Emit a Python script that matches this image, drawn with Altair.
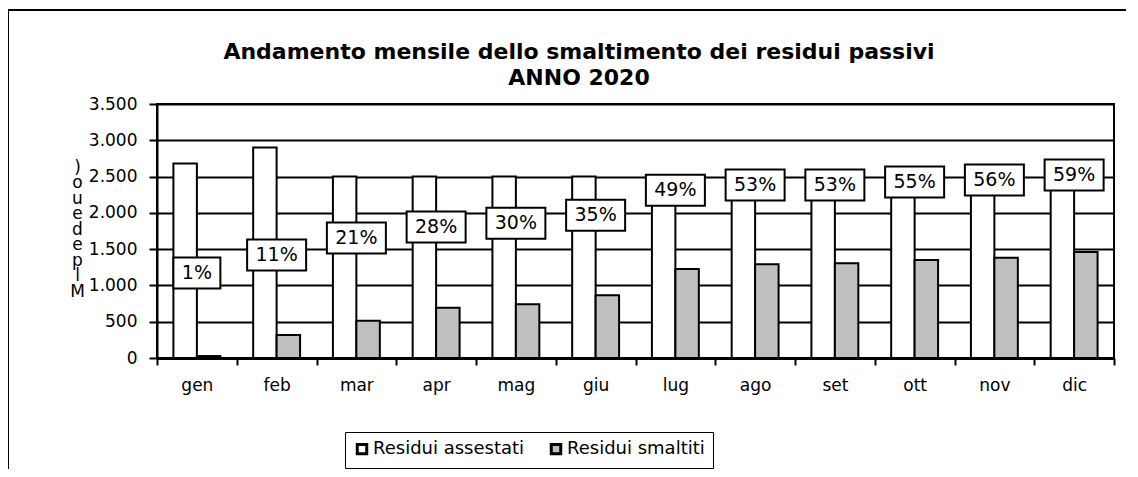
import altair as alt
import pandas as pd

months = ["gen", "feb", "mar", "apr", "mag", "giu", "lug", "ago", "set", "ott", "nov", "dic"]
assestati = [2680, 2900, 2500, 2500, 2500, 2500, 2500, 2440, 2460, 2450, 2470, 2480]
smaltiti = [27, 317, 514, 693, 740, 865, 1226, 1291, 1305, 1350, 1382, 1461]
pct_labels = ["1%", "11%", "21%", "28%", "30%", "35%", "49%", "53%", "53%", "55%", "56%", "59%"]
label_pos = [1171, 1419, 1654, 1805, 1856, 1966, 2311, 2384, 2384, 2425, 2453, 2522]
series_names = ["Residui assestati", "Residui smaltiti"]
y_ticks = [0, 500, 1000, 1500, 2000, 2500, 3000, 3500]
y_title = [")", "o", "u", "e", "d", "e", "p", "l", "M"]
title_lines = ["Andamento mensile dello smaltimento dei residui passivi", "ANNO 2020"]

rows = []
for m, a, s in zip(months, assestati, smaltiti):
    rows.append({"mese": m, "serie": series_names[0], "valore": a})
    rows.append({"mese": m, "serie": series_names[1], "valore": s})
bars_df = pd.DataFrame(rows)
lab_df = pd.DataFrame({"mese": months, "pct": pct_labels, "valore": label_pos})
lab_df["n"] = lab_df["pct"].str.len()

FONT = "DejaVu Sans"
FS = 17

x_scale = alt.Scale(domain=months, paddingInner=0, paddingOuter=0)
y_scale = alt.Scale(domain=[0, 3500], nice=False)

x_axis = alt.Axis(title=None, labelAngle=0, tickBand="extent", ticks=True, tickSize=7,
                  labelPadding=12, labelFontSize=FS, labelFont=FONT,
                  labelColor="black", domainColor="black", domainWidth=3,
                  tickColor="black", tickWidth=2, grid=False)
y_axis = alt.Axis(values=y_ticks, grid=True, gridColor="black", gridWidth=2,
                  labelOverlap=False,
                  labelExpr="replace(format(datum.value, ','), ',', '.')",
                  tickSize=8, labelPadding=12, labelFontSize=FS, labelFont=FONT,
                  labelColor="black", domainColor="black", domainWidth=2,
                  tickColor="black", tickWidth=2,
                  title=y_title, titleAngle=0, titleX=-80, titleY=55,
                  titleAlign="center", titleBaseline="top",
                  titleFont=FONT, titleFontSize=17, titleFontWeight="normal",
                  titleLineHeight=15.5, titleColor="black")

X = alt.X("mese:N", sort=months, scale=x_scale, axis=x_axis)
Y_bar = alt.Y("valore:Q", scale=y_scale, axis=y_axis)

bars = alt.Chart(bars_df).mark_bar(stroke="black", strokeWidth=2).encode(
    x=X,
    xOffset=alt.XOffset("serie:N", sort=series_names,
                        scale=alt.Scale(domain=series_names, paddingInner=0, paddingOuter=0.7)),
    y=Y_bar,
    color=alt.Color("serie:N", sort=series_names,
                    scale=alt.Scale(domain=series_names, range=["white", "#c0c0c0"]),
                    legend=alt.Legend(title=None, orient="none", legendX=188, legendY=328,
                                      direction="horizontal", strokeColor="black",
                                      padding=8, symbolType="square", symbolSize=90,
                                      symbolStrokeColor="black", symbolStrokeWidth=3,
                                      labelFont=FONT, labelFontSize=18, labelColor="black",
                                      columnPadding=20, labelOffset=2)),
)

def boxes(width, cond):
    return alt.Chart(lab_df).transform_filter(cond).mark_rect(
        width=width, height=31, fill="white", stroke="black", strokeWidth=2
    ).encode(x=X, y=Y_bar)

box1 = boxes(47, "datum.n == 2")
box2 = boxes(59, "datum.n == 3")

texts = alt.Chart(lab_df).mark_text(font=FONT, fontSize=19, baseline="middle",
                                    align="center", color="black").encode(
    x=X, y=Y_bar, text="pct:N",
)

one = pd.DataFrame({"k": [0]})
frame_left = alt.Chart(one).mark_rule(color="black", strokeWidth=2).encode(
    x=alt.value(-149), y=alt.value(-94), y2=alt.value(400))
frame_top = alt.Chart(one).mark_rule(color="black", strokeWidth=2).encode(
    x=alt.value(-149), x2=alt.value(1000), y=alt.value(-94))
title = alt.Chart(one).mark_text(text=title_lines, font=FONT, fontSize=22, fontWeight="bold",
                                 lineHeight=26, baseline="middle", align="center",
                                 color="black").encode(
    x=alt.value(422), y=alt.value(-52))

chart = alt.layer(bars, box1, box2, texts, frame_left, frame_top, title).properties(
    width=957, height=254,
    autosize="none",
    padding={"left": 149, "top": 96, "right": 12, "bottom": 111},
).configure(background="white").configure_view(stroke="black", strokeWidth=2)

chart.save("out.html", embed_options={"renderer": "svg", "actions": False})
